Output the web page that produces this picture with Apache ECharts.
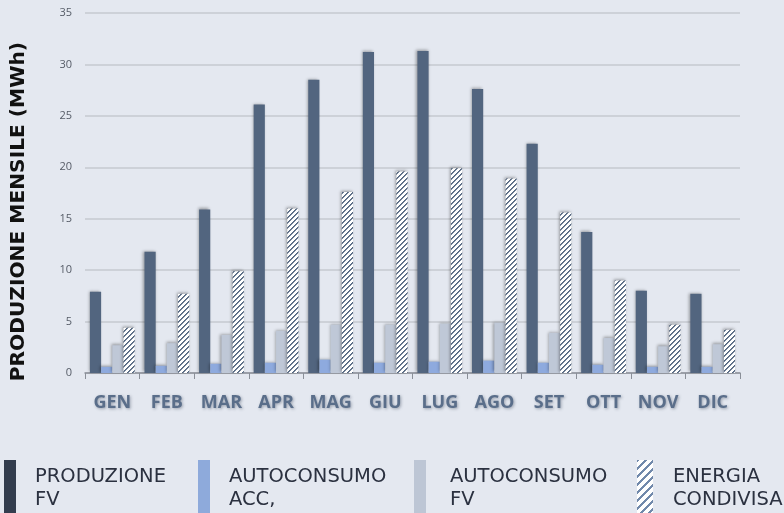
<!DOCTYPE html>
<html><head><meta charset="utf-8">
<script src="https://cdn.jsdelivr.net/npm/echarts@6/dist/echarts.min.js"></script>
<style>html,body{margin:0;padding:0;background:#e4e8f0}#c{width:784px;height:513px}</style>
</head><body><div id="c"></div>
<script>
const categories = ['GEN','FEB','MAR','APR','MAG','GIU','LUG','AGO','SET','OTT','NOV','DIC'];
const produzioneFV = [7.9, 11.8, 15.9, 26.1, 28.5, 31.2, 31.3, 27.6, 22.3, 13.7, 8.0, 7.7];
const autoconsumoACC = [0.6, 0.7, 0.9, 1.0, 1.3, 1.0, 1.1, 1.2, 1.0, 0.8, 0.6, 0.6];
const autoconsumoFV = [2.7, 2.9, 3.7, 4.1, 4.7, 4.7, 4.8, 4.9, 3.9, 3.4, 2.6, 2.8];
const energiaCondivisa = [4.4, 7.7, 9.9, 16.0, 17.6, 19.6, 19.9, 18.9, 15.6, 9.0, 4.7, 4.2];
const seriesNames = ['PRODUZIONE\nFV', 'AUTOCONSUMO\nACC,', 'AUTOCONSUMO\nFV', 'ENERGIA\nCONDIVISA'];
const yTicks = [0, 5, 10, 15, 20, 25, 30, 35];

function stripeTile(n, full, soft, col){
  const c = document.createElement('canvas'); c.width = n; c.height = n;
  const g = c.getContext('2d');
  g.fillStyle = '#ffffff'; g.fillRect(0,0,n,n);
  for (let y = 0; y < n; y++){
    g.globalAlpha = 1; g.fillStyle = col;
    for (let k = 0; k < full; k++) g.fillRect((n - 1 - y + k) % n, y, 1, 1);
    if (soft){ g.globalAlpha = soft; g.fillRect((n - 1 - y + full) % n, y, 1, 1); }
  }
  return c;
}
const barHatch = {image: stripeTile(5, 1, 0.8, '#52657f'), repeat: 'repeat'};
const legendHatch = {image: stripeTile(8, 3, 0, '#7189ab'), repeat: 'repeat'};

const shadow = {shadowColor:'rgba(0,0,0,0.35)', shadowBlur:3, shadowOffsetX:-1, shadowOffsetY:-1};
const chart = echarts.init(document.getElementById('c'));
function lg(item, left, iw, gap){
  return {show:true, data:[item], left:left, top:460, padding:0, icon:'rect',
    itemWidth:iw, itemHeight:56, selectedMode:false,
    textStyle:{fontFamily:'DejaVu Sans', fontSize:19.5, color:'#2b3140', lineHeight:23, padding:[0,0,0,gap]}};
}
chart.setOption({
  backgroundColor:'#e4e8f0',
  animation:false,
  grid:{left:85, right:44, top:13, bottom:140},
  legend:[
    lg({name:seriesNames[0], itemStyle:{color:'#333d4e', shadowBlur:0}},4,12,14),
    lg({name:seriesNames[1], itemStyle:{color:'#8eaadb', shadowBlur:0}},198,12,14),
    lg({name:seriesNames[2], itemStyle:{color:'#bdc6d5', shadowBlur:0}},414,12,19),
    lg({name:seriesNames[3], itemStyle:{color:legendHatch, shadowBlur:0}},637,16,15)],
  xAxis:{type:'category', data:categories,
    axisLine:{lineStyle:{color:'#8a8f98', width:1.5}},
    axisTick:{show:true, length:6, lineStyle:{color:'#8a8f98'}},
    axisLabel:{interval:0, margin:21, fontFamily:'Open Sans', fontWeight:'bold', fontSize:18, color:'#5a6e8a',
      textShadowColor:'rgba(60,70,90,0.45)', textShadowBlur:3, textShadowOffsetX:1, textShadowOffsetY:1}},
  yAxis:{type:'value', min:yTicks[0], max:yTicks[yTicks.length-1], interval:5,
    axisLine:{show:false}, axisTick:{show:false},
    axisLabel:{margin:13, fontFamily:'Open Sans', fontSize:11, color:'#555b66'},
    splitLine:{lineStyle:{color:'#cdd1d8', width:2}}},
  graphic:[{type:'text', left:9, top:42, rotation:Math.PI/2,
    style:{text:'PRODUZIONE MENSILE (MWh)', fontFamily:'DejaVu Sans', fontWeight:'bold', fontSize:20.2, fill:'#111'}}],
  series:[
    {name:seriesNames[0], type:'bar', data:produzioneFV, barGap:'0%', barCategoryGap:'18%',
      itemStyle:Object.assign({color:'#52657f'}, shadow)},
    {name:seriesNames[1], type:'bar', data:autoconsumoACC,
      itemStyle:Object.assign({color:'#8eaade'}, shadow)},
    {name:seriesNames[2], type:'bar', data:autoconsumoFV,
      itemStyle:Object.assign({color:'#bfc8d7'}, shadow)},
    {name:seriesNames[3], type:'bar', data:energiaCondivisa,
      itemStyle:Object.assign({color:barHatch}, shadow)}
  ]
});
</script></body></html>
